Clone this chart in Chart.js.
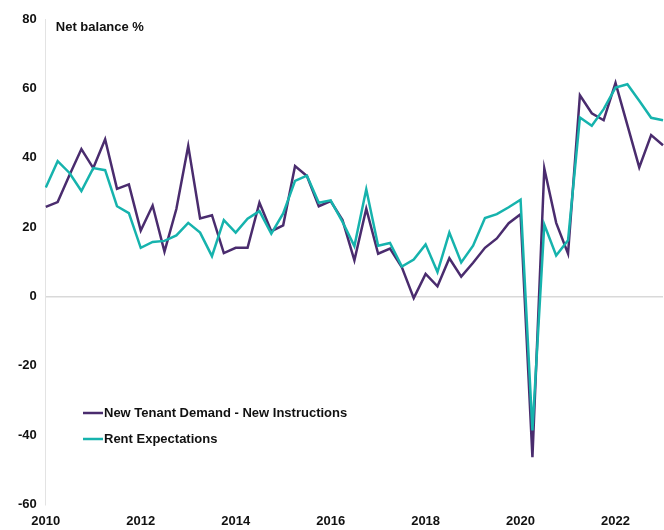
<!DOCTYPE html>
<html>
<head>
<meta charset="utf-8">
<script src="https://cdn.jsdelivr.net/npm/chart.js@4"></script>
<style>
  body { margin: 0; background: #fff; }
  #wrap { width: 664px; height: 530px; position: relative; }
</style>
</head>
<body>
<div id="wrap"><canvas id="myChart"></canvas></div>
<script>
// quarters 2010 Q1 .. 2023 Q1
const years = ['2010','2011','2012','2013','2014','2015','2016','2017','2018','2019','2020','2021','2022','2023'];
const quarters = [];
years.forEach(y => ['Q1','Q2','Q3','Q4'].forEach(q => quarters.push(y + ' ' + q)));
quarters.length = 53;

const yearTicks = ['2010', '2012', '2014', '2016', '2018', '2020', '2022'];

const tenantDemand = [
  25.8, 27.2, 35, 42.5, 37, 45.3, 31, 32.3,
  19, 26.2, 12.9, 25.2, 43.4, 22.5, 23.4, 12.5,
  14, 14, 27, 18.8, 20.5, 37.6, 34.7, 26,
  27.5, 22, 10.4, 25.3, 12.3, 13.8, 8.4, -0.5,
  6.5, 2.9, 11, 5.7, 9.7, 14, 16.7, 21.1,
  23.7, -46.4, 36.9, 21.2, 12.3, 58, 52.8, 50.8,
  61.6, 49.4, 37.2, 46.5, 43.6
];
const rentExpectations = [
  31.4, 39, 35.6, 30.4, 37, 36.4, 26, 24,
  14, 15.7, 16, 17.6, 21.2, 18.4, 11.6, 22,
  18.4, 22.4, 24.6, 18.1, 23.9, 33.3, 34.8, 27,
  27.7, 21.5, 14.5, 30.9, 14.6, 15.4, 8.6, 10.6,
  15, 7, 18.4, 9.8, 14.6, 22.6, 23.7, 25.7,
  27.9, -38.7, 20.7, 11.8, 16.2, 51.6, 49.2, 54,
  60.2, 61.2, 56.4, 51.5, 50.8
];

const PURPLE = '#4a2c6e';
const TEAL = '#16b3ad';
const FONT = 'Liberation Sans, Arial, sans-serif';

// title text + legend inside the plot area
const overlay = {
  id: 'overlay',
  afterDraw(chart) {
    const ctx = chart.ctx;
    const a = chart.chartArea;
    ctx.save();
    ctx.fillStyle = '#111';
    ctx.font = 'bold 13px ' + FONT;
    ctx.textBaseline = 'middle';
    ctx.textAlign = 'left';
    ctx.fillText('Net balance %', a.left + 10, a.top + 8);

    const items = [chart.data.datasets[0], chart.data.datasets[1]];
    items.forEach((ds, i) => {
      const y = 413 + i * 26;
      ctx.strokeStyle = ds.borderColor;
      ctx.lineWidth = 2.5;
      ctx.beginPath();
      ctx.moveTo(83, y);
      ctx.lineTo(103, y);
      ctx.stroke();
      ctx.fillStyle = '#111';
      ctx.fillText(ds.label, 104, y);
    });
    ctx.restore();
  }
};

document.addEventListener('DOMContentLoaded', function () {
  new Chart(document.getElementById('myChart').getContext('2d'), {
    type: 'line',
    data: {
      labels: quarters,
      datasets: [{
        label: 'New Tenant Demand - New Instructions',
        data: tenantDemand,
        borderColor: PURPLE,
        borderWidth: 2.5,
        pointRadius: 0,
        tension: 0,
        order: 1
      }, {
        label: 'Rent Expectations',
        data: rentExpectations,
        borderColor: TEAL,
        borderWidth: 2.5,
        pointRadius: 0,
        tension: 0,
        order: 0
      }]
    },
    options: {
      responsive: true,
      maintainAspectRatio: false,
      animation: false,
      layout: { padding: { top: 19, left: 9, right: -12, bottom: 0 } },
      plugins: {
        legend: { display: false },
        tooltip: { enabled: false }
      },
      scales: {
        x: {
          grid: { display: false },
          border: { display: false },
          ticks: {
            autoSkip: false,
            maxRotation: 0,
            padding: 1,
            color: '#111',
            font: { family: FONT, size: 13, weight: 'bold' },
            callback: (v, i) => (i % 8 === 0 ? yearTicks[i / 8] : '')
          }
        },
        y: {
          min: -60,
          max: 80,
          ticks: {
            stepSize: 20,
            padding: 9,
            color: '#111',
            font: { family: FONT, size: 13, weight: 'bold' }
          },
          grid: {
            drawTicks: false,
            color: c => (c.tick && c.tick.value === 0 ? '#d9d9d9' : 'rgba(0,0,0,0)'),
            lineWidth: 1.5
          },
          border: { display: true, color: '#e3e3e3', width: 1 }
        }
      }
    },
    plugins: [overlay]
  });
});
</script>
</body>
</html>
